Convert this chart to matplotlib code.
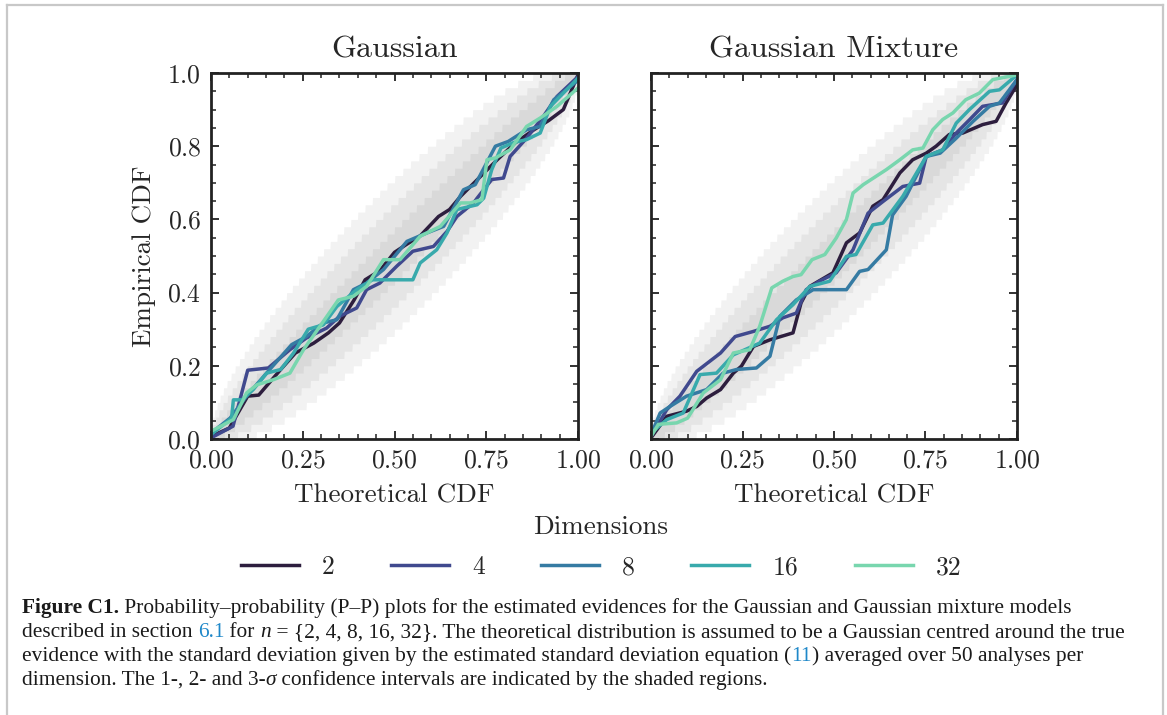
import math
import numpy as np
import matplotlib
matplotlib.use("Agg")
import matplotlib.pyplot as plt
from matplotlib.lines import Line2D
from matplotlib.ticker import MultipleLocator

dims = ["2", "4", "8", "16", "32"]
colors = ["#2d1e3e", "#40498e", "#357ba3", "#38aaac", "#78d6ae"]
n_analyses = 50
sigma_levels = [0.682689, 0.954500, 0.997300]

gauss_x = {
    "2": [0, 0.05, 0.10, 0.13, 0.19, 0.23, 0.28, 0.32, 0.35, 0.39, 0.42, 0.46, 0.50, 0.53,
          0.57, 0.62, 0.65, 0.68, 0.73, 0.78, 0.83, 0.88, 0.92, 0.96, 1.0],
    "4": [0, 0.06, 0.10, 0.156, 0.215, 0.26, 0.315, 0.35, 0.397, 0.424, 0.46, 0.506, 0.55,
          0.606, 0.643, 0.67, 0.715, 0.765, 0.797, 0.815, 0.86, 0.906, 0.943, 1.0],
    "8": [0, 0.052, 0.097, 0.16, 0.22, 0.26, 0.306, 0.343, 0.388, 0.424, 0.47, 0.534, 0.588,
          0.634, 0.688, 0.72, 0.775, 0.81, 0.86, 0.897, 0.934, 1.0],
    "16": [0, 0.056, 0.061, 0.084, 0.115, 0.152, 0.19, 0.225, 0.265, 0.306, 0.343, 0.397,
           0.44, 0.48, 0.55, 0.57, 0.615, 0.643, 0.67, 0.725, 0.743, 0.765, 0.79, 0.825,
           0.86, 0.897, 0.925, 0.96, 1.0],
    "32": [0, 0.061, 0.097, 0.125, 0.17, 0.215, 0.252, 0.297, 0.347, 0.388, 0.424, 0.47,
           0.515, 0.57, 0.625, 0.68, 0.706, 0.738, 0.752, 0.775, 0.815, 0.86, 0.897, 0.943, 1.0],
}
gauss_y = {
    "2": [0.007, 0.03, 0.117, 0.12, 0.19, 0.235, 0.262, 0.29, 0.317, 0.38, 0.435, 0.46, 0.51,
          0.53, 0.555, 0.608, 0.627, 0.663, 0.713, 0.763, 0.81, 0.845, 0.87, 0.90, 0.995],
    "4": [0.003, 0.035, 0.188, 0.194, 0.244, 0.276, 0.303, 0.335, 0.358, 0.408, 0.426, 0.472,
          0.513, 0.526, 0.567, 0.608, 0.645, 0.709, 0.713, 0.772, 0.822, 0.882, 0.936, 0.99],
    "8": [0.016, 0.057, 0.117, 0.19, 0.258, 0.28, 0.317, 0.326, 0.408, 0.426, 0.463, 0.54,
          0.563, 0.581, 0.681, 0.695, 0.80, 0.813, 0.845, 0.854, 0.927, 0.98],
    "16": [0.012, 0.057, 0.107, 0.107, 0.135, 0.18, 0.19, 0.235, 0.30, 0.312, 0.362, 0.408,
           0.435, 0.435, 0.435, 0.481, 0.517, 0.563, 0.627, 0.64, 0.658, 0.736, 0.795, 0.81,
           0.818, 0.836, 0.909, 0.945, 0.986],
    "32": [0.021, 0.053, 0.126, 0.148, 0.162, 0.18, 0.244, 0.308, 0.38, 0.39, 0.417, 0.49,
           0.49, 0.554, 0.581, 0.645, 0.645, 0.654, 0.763, 0.768, 0.79, 0.854, 0.877, 0.909, 0.959],
}

mix_x = {
    "2": [0, 0.043, 0.097, 0.125, 0.152, 0.19, 0.225, 0.247, 0.28, 0.325, 0.388, 0.41, 0.434,
          0.497, 0.534, 0.57, 0.606, 0.634, 0.68, 0.715, 0.752, 0.779, 0.815, 0.852, 0.906,
          0.943, 0.97, 1.0],
    "4": [0, 0.043, 0.079, 0.125, 0.19, 0.23, 0.28, 0.325, 0.36, 0.397, 0.424, 0.46, 0.506,
          0.552, 0.593, 0.634, 0.688, 0.734, 0.752, 0.797, 0.834, 0.87, 0.906, 0.96, 1.0],
    "8": [0, 0.025, 0.052, 0.097, 0.152, 0.197, 0.234, 0.288, 0.325, 0.352, 0.397, 0.443,
          0.488, 0.534, 0.57, 0.593, 0.643, 0.66, 0.697, 0.752, 0.79, 0.834, 0.88, 0.925,
          0.952, 1.0],
    "16": [0, 0.043, 0.088, 0.134, 0.179, 0.225, 0.297, 0.343, 0.388, 0.434, 0.488, 0.534,
           0.56, 0.606, 0.634, 0.688, 0.752, 0.797, 0.834, 0.87, 0.925, 0.952, 1.0],
    "32": [0, 0.02, 0.07, 0.10, 0.143, 0.19, 0.225, 0.27, 0.297, 0.33, 0.36, 0.388, 0.41,
           0.44, 0.475, 0.506, 0.534, 0.552, 0.58, 0.643, 0.68, 0.715, 0.743, 0.77, 0.797,
           0.825, 0.86, 0.897, 0.934, 1.0],
}
mix_y = {
    "2": [0.003, 0.062, 0.076, 0.089, 0.112, 0.135, 0.18, 0.199, 0.253, 0.271, 0.29, 0.372,
          0.417, 0.454, 0.536, 0.563, 0.636, 0.654, 0.727, 0.763, 0.781, 0.80, 0.832, 0.836,
          0.859, 0.868, 0.918, 0.968],
    "4": [0.007, 0.08, 0.117, 0.185, 0.235, 0.28, 0.294, 0.308, 0.331, 0.344, 0.408, 0.431,
          0.454, 0.517, 0.617, 0.649, 0.69, 0.699, 0.772, 0.79, 0.836, 0.872, 0.909, 0.918, 0.982],
    "8": [0.012, 0.071, 0.089, 0.117, 0.135, 0.18, 0.19, 0.194, 0.226, 0.335, 0.38, 0.408,
          0.408, 0.408, 0.458, 0.463, 0.517, 0.612, 0.663, 0.772, 0.781, 0.822, 0.868, 0.909,
          0.918, 0.982],
    "16": [0.016, 0.053, 0.071, 0.176, 0.18, 0.23, 0.262, 0.326, 0.367, 0.417, 0.431, 0.499,
           0.504, 0.585, 0.59, 0.663, 0.772, 0.79, 0.863, 0.90, 0.95, 0.954, 0.995],
    "32": [0.007, 0.04, 0.044, 0.057, 0.126, 0.162, 0.235, 0.244, 0.308, 0.413, 0.431, 0.444,
           0.449, 0.49, 0.504, 0.549, 0.60, 0.672, 0.695, 0.736, 0.763, 0.79, 0.795, 0.845,
           0.873, 0.891, 0.927, 0.945, 0.982, 0.995],
}

panels = [("Gaussian", gauss_x, gauss_y), ("Gaussian Mixture", mix_x, mix_y)]

W, H = 1167, 715
TXT = "#262626"
plt.rcParams["font.family"] = "cmr10"
plt.rcParams["mathtext.fontset"] = "cm"
plt.rcParams["axes.formatter.use_mathtext"] = True
plt.rcParams["text.color"] = TXT
plt.rcParams["axes.labelcolor"] = TXT
plt.rcParams["xtick.color"] = TXT
plt.rcParams["ytick.color"] = TXT


def binom_ppf(q, n, p):
    # smallest k with P(K <= k) >= q, for each p
    k = np.arange(n + 1)
    coef = np.array([math.comb(n, int(i)) for i in k], dtype=float)
    pmf = coef[None, :] * p[:, None] ** k[None, :] * (1 - p[:, None]) ** (n - k)[None, :]
    cdf = np.cumsum(pmf, axis=1)
    return np.argmax(cdf >= q - 1e-12, axis=1)


grid = np.linspace(0, 1, 1001)
bands = []
for ci in sigma_levels:
    lo = binom_ppf((1 - ci) / 2, n_analyses, grid) / n_analyses
    hi = binom_ppf(1 - (1 - ci) / 2, n_analyses, grid) / n_analyses
    bands.append((lo, hi))

fig = plt.figure(figsize=(W / 100, H / 100), dpi=100)
ax_pos = [(211 / W, 1 - 439 / H, 367 / W, 366 / H),
          (651 / W, 1 - 439 / H, 366 / W, 366 / H)]

for i, (title, xs, ys) in enumerate(panels):
    ax = fig.add_axes(ax_pos[i])
    for lo, hi in bands:
        ax.fill_between(grid, lo, hi, color="k", alpha=0.05, lw=0)
    for d, c in zip(dims, colors):
        ax.plot(xs[d], ys[d], color=c, lw=2.5, label=d)
    ax.set_xlim(0, 1)
    ax.set_ylim(0, 1)
    ax.xaxis.set_major_locator(MultipleLocator(0.25))
    ax.xaxis.set_minor_locator(MultipleLocator(0.05))
    ax.yaxis.set_major_locator(MultipleLocator(0.2))
    ax.yaxis.set_minor_locator(MultipleLocator(0.05))
    ax.tick_params(which="both", direction="in", top=True, right=True,
                   labelsize=18.5, pad=7, color="#222222")
    ax.tick_params(which="major", length=6, width=1.3)
    ax.tick_params(which="minor", length=3.5, width=1.1)
    for sp in ax.spines.values():
        sp.set_linewidth(2.0)
        sp.set_color("#222222")
    ax.set_title(title, fontsize=23, pad=11)
    ax.set_xlabel("Theoretical CDF", fontsize=19.5, labelpad=8)
    if i == 0:
        ax.set_ylabel("Empirical CDF", fontsize=19.5, labelpad=8)
        handles = ax.get_lines()
    else:
        ax.tick_params(labelleft=False)

fig.legend(handles, dims, loc="center", bbox_to_anchor=(601 / W, 1 - 547 / H),
           ncol=5, frameon=False, fontsize=18.5, title="Dimensions",
           title_fontsize=19.5, handlelength=2.25, handletextpad=0.9,
           columnspacing=2.2, borderpad=0.0, labelspacing=0.65)

# caption, drawn piece by piece so the styled words sit in line
BLUE = "#1f88c9"
cap_font = ["Liberation Serif", "DejaVu Serif"]
cap_lines = [
    [("Figure C1.", {"weight": "bold"}),
     (" Probability\u2013probability (P\u2013P) plots for the estimated evidences for the "
      "Gaussian and Gaussian mixture models", {})],
    [("described in section ", {}), ("6.1", {"color": BLUE}), (" for ", {}),
     ("n", {"style": "italic"}),
     (" = {2, 4, 8, 16, 32}. The theoretical distribution is assumed to be a Gaussian "
      "centred around the true", {})],
    [("evidence with the standard deviation given by the estimated standard deviation "
      "equation (", {}), ("11", {"color": BLUE}),
     (") averaged over 50 analyses per", {})],
    [("dimension. The 1-, 2- and 3-", {}), ("\u03c3", {"style": "italic"}),
     (" confidence intervals are indicated by the shaded regions.", {})],
]
renderer = fig.canvas.get_renderer()
for row, pieces in enumerate(cap_lines):
    x = 22
    y = 613 + row * 24
    for txt, props in pieces:
        t = fig.text(x / W, 1 - y / H, txt, family=cap_font, fontsize=15.4,
                     color=props.get("color", "#1a1a1a"),
                     weight=props.get("weight", "normal"),
                     style=props.get("style", "normal"), va="baseline")
        x += t.get_window_extent(renderer).width

# page frame
frame = dict(color="#c8c8c8", lw=1.6, transform=fig.transFigure)
fig.add_artist(Line2D([7 / W, 7 / W], [0, 1 - 5 / H], **frame))
fig.add_artist(Line2D([7 / W, 1163 / W], [1 - 5 / H, 1 - 5 / H], **frame))
fig.add_artist(Line2D([1163 / W, 1163 / W], [0, 1 - 5 / H], **frame))

fig.savefig("out.png", dpi=100)
